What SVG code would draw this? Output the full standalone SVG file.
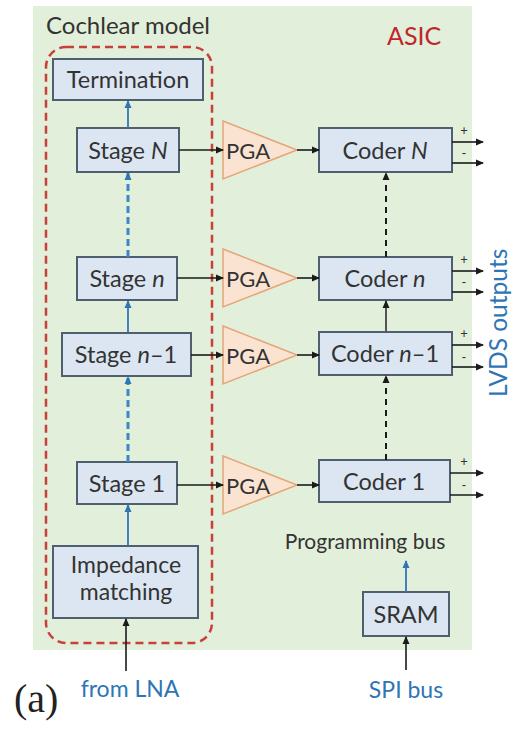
<svg xmlns="http://www.w3.org/2000/svg" width="513" height="729" viewBox="0 0 513 729">
  <defs>
    <marker id="arrK" viewBox="0 0 8 8" refX="7" refY="4" markerWidth="8" markerHeight="8" markerUnits="userSpaceOnUse" orient="auto">
      <path d="M0,0.5 L8,4 L0,7.5 Z" fill="#1a1a1a"/>
    </marker>
    <marker id="arrB" viewBox="0 0 8 8" refX="7" refY="4" markerWidth="8" markerHeight="8" markerUnits="userSpaceOnUse" orient="auto">
      <path d="M0,0.5 L8,4 L0,7.5 Z" fill="#2e75b6"/>
    </marker>
    <style>
      .lbl { font-family: Lato, "Liberation Sans", sans-serif; fill: #333; font-size: 23.5px; }
      .box { fill: #dbe6f2; stroke: #4f5f70; stroke-width: 2; }
      .pga { fill: #fbe3d2; stroke: #e6a577; stroke-width: 1.5; }
      .k { stroke: #1a1a1a; stroke-width: 1.6; fill: none; }
      .kd { stroke: #1a1a1a; stroke-width: 2; fill: none; stroke-dasharray: 6 5; }
      .b { stroke: #2e75b6; stroke-width: 1.8; fill: none; }
      .bd { stroke: #3a88c8; stroke-width: 3; fill: none; stroke-dasharray: 7 4; }
      .blue { fill: #2e75b6; font-family: Lato, "Liberation Sans", sans-serif; font-size: 23px; }
      .pm { font-family: Lato, "Liberation Sans", sans-serif; font-size: 13px; fill: #333; }
    </style>
  </defs>

  <!-- ASIC area -->
  <rect x="33" y="6" width="439" height="644" fill="#e2efda"/>
  <text class="lbl" x="46" y="34" style="font-size:24px">Cochlear model</text>
  <text x="387" y="45" font-family="Lato, 'Liberation Sans', sans-serif" font-size="25" fill="#c0262b">ASIC</text>

  <!-- cochlear model outline -->
  <rect x="46" y="47" width="166" height="596" rx="20" ry="20" fill="none" stroke="#c9403a" stroke-width="2.5" stroke-dasharray="8 5"/>

  <!-- cochlear stages -->
  <g id="termination">
    <rect class="box" x="53" y="59" width="150" height="41"/>
    <text class="lbl" x="128" y="88" text-anchor="middle">Termination</text>
  </g>
  <g id="stage-N">
    <rect class="box" x="77" y="128" width="102" height="44"/>
    <text class="lbl" x="128" y="158.5" text-anchor="middle">Stage <tspan font-style="italic">N</tspan></text>
  </g>
  <g id="stage-n">
    <rect class="box" x="77" y="257" width="100" height="43"/>
    <text class="lbl" x="127" y="287" text-anchor="middle">Stage <tspan font-style="italic">n</tspan></text>
  </g>
  <g id="stage-n-1">
    <rect class="box" x="62" y="333" width="129" height="43"/>
    <text class="lbl" x="126" y="363" text-anchor="middle">Stage <tspan font-style="italic">n</tspan>–1</text>
  </g>
  <g id="stage-1">
    <rect class="box" x="77" y="462" width="100" height="42"/>
    <text class="lbl" x="127" y="491.5" text-anchor="middle">Stage 1</text>
  </g>
  <g id="impedance-matching">
    <rect class="box" x="53" y="546" width="145" height="72"/>
    <text class="lbl" x="126" y="573" text-anchor="middle" style="font-size:23px">Impedance</text>
    <text class="lbl" x="126" y="599.5" text-anchor="middle" style="font-size:23px">matching</text>
  </g>

  <!-- programmable gain amplifiers -->
  <g id="pga-N">
    <polygon class="pga" points="223,121 297,150 223,179"/>
    <text class="lbl" x="226" y="158.5" style="font-size:22px">PGA</text>
  </g>
  <g id="pga-n">
    <polygon class="pga" points="223,249 297,278 223,307"/>
    <text class="lbl" x="226" y="286.5" style="font-size:22px">PGA</text>
  </g>
  <g id="pga-n-1">
    <polygon class="pga" points="223,326 297,355 223,384"/>
    <text class="lbl" x="226" y="363.5" style="font-size:22px">PGA</text>
  </g>
  <g id="pga-1">
    <polygon class="pga" points="223,456 297,485 223,514"/>
    <text class="lbl" x="226" y="493.5" style="font-size:22px">PGA</text>
  </g>

  <!-- coders -->
  <g id="coder-N">
    <rect class="box" x="319" y="128" width="133" height="44"/>
    <text class="lbl" x="385" y="158.5" text-anchor="middle">Coder <tspan font-style="italic">N</tspan></text>
  </g>
  <g id="coder-n">
    <rect class="box" x="319" y="257" width="133" height="43"/>
    <text class="lbl" x="385" y="287" text-anchor="middle">Coder <tspan font-style="italic">n</tspan></text>
  </g>
  <g id="coder-n-1">
    <rect class="box" x="319" y="332" width="133" height="43"/>
    <text class="lbl" x="385" y="362" text-anchor="middle">Coder <tspan font-style="italic">n</tspan>–1</text>
  </g>
  <g id="coder-1">
    <rect class="box" x="319" y="460" width="131" height="42"/>
    <text class="lbl" x="384" y="489.5" text-anchor="middle">Coder 1</text>
  </g>

  <g id="sram">
    <rect class="box" x="363" y="592" width="86" height="44"/>
    <text class="lbl" x="406" y="622.5" text-anchor="middle">SRAM</text>
  </g>

  <text class="lbl" x="365" y="549" text-anchor="middle" style="font-size:21px">Programming bus</text>

  <!-- connectors -->
  <g id="connectors">
    <!-- cochlear chain -->
    <line class="b" x1="128" y1="128" x2="128" y2="101" marker-end="url(#arrB)"/>
    <line class="bd" x1="128" y1="257" x2="128" y2="173" marker-end="url(#arrB)"/>
    <line class="b" x1="128" y1="333" x2="128" y2="301" marker-end="url(#arrB)"/>
    <line class="bd" x1="128" y1="462" x2="128" y2="377" marker-end="url(#arrB)"/>
    <line class="b" x1="128" y1="546" x2="128" y2="505" marker-end="url(#arrB)"/>
    <line class="k" x1="126" y1="671" x2="126" y2="619" marker-end="url(#arrK)"/>

    <!-- stages to PGAs -->
    <line class="k" x1="179" y1="150" x2="223" y2="150" marker-end="url(#arrK)"/>
    <line class="k" x1="177" y1="278" x2="223" y2="278" marker-end="url(#arrK)"/>
    <line class="k" x1="191" y1="355" x2="223" y2="355" marker-end="url(#arrK)"/>
    <line class="k" x1="177" y1="485" x2="223" y2="485" marker-end="url(#arrK)"/>

    <!-- PGAs to coders -->
    <line class="k" x1="297" y1="150" x2="319" y2="150" marker-end="url(#arrK)"/>
    <line class="k" x1="297" y1="278" x2="319" y2="278" marker-end="url(#arrK)"/>
    <line class="k" x1="297" y1="355" x2="319" y2="355" marker-end="url(#arrK)"/>
    <line class="k" x1="297" y1="485" x2="319" y2="485" marker-end="url(#arrK)"/>

    <!-- coder chain -->
    <line class="kd" x1="386" y1="257" x2="386" y2="173" marker-end="url(#arrK)"/>
    <line stroke="#555" stroke-width="2" x1="386" y1="332" x2="386" y2="301" marker-end="url(#arrK)"/>
    <line class="kd" x1="386" y1="460" x2="386" y2="376" marker-end="url(#arrK)"/>

    <!-- LVDS outputs -->
    <line class="k" x1="452" y1="142" x2="483" y2="142" marker-end="url(#arrK)"/>
    <line class="k" x1="452" y1="163" x2="483" y2="163" marker-end="url(#arrK)"/>
    <line class="k" x1="452" y1="271" x2="483" y2="271" marker-end="url(#arrK)"/>
    <line class="k" x1="452" y1="292" x2="483" y2="292" marker-end="url(#arrK)"/>
    <line class="k" x1="452" y1="345" x2="483" y2="345" marker-end="url(#arrK)"/>
    <line class="k" x1="452" y1="367" x2="483" y2="367" marker-end="url(#arrK)"/>
    <line class="k" x1="450" y1="473" x2="483" y2="473" marker-end="url(#arrK)"/>
    <line class="k" x1="450" y1="495" x2="483" y2="495" marker-end="url(#arrK)"/>

    <!-- programming bus -->
    <line class="b" x1="406" y1="592" x2="406" y2="561" marker-end="url(#arrB)"/>
    <line class="k" x1="406" y1="670" x2="406" y2="637" marker-end="url(#arrK)"/>
  </g>

  <!-- output polarity marks -->
  <text class="pm" x="464" y="135" text-anchor="middle">+</text>
  <text class="pm" x="464" y="158" text-anchor="middle">-</text>
  <text class="pm" x="464" y="264" text-anchor="middle">+</text>
  <text class="pm" x="464" y="287" text-anchor="middle">-</text>
  <text class="pm" x="464" y="338" text-anchor="middle">+</text>
  <text class="pm" x="464" y="362" text-anchor="middle">-</text>
  <text class="pm" x="464" y="466" text-anchor="middle">+</text>
  <text class="pm" x="464" y="490" text-anchor="middle">-</text>

  <text class="blue" x="507" y="397" transform="rotate(-90 507 397)" style="font-size:24.5px">LVDS outputs</text>

  <text class="blue" x="130" y="697" text-anchor="middle">from LNA</text>
  <text class="blue" x="406" y="698" text-anchor="middle">SPI bus</text>

  <text x="14" y="712" font-family="'Liberation Serif', serif" font-size="40" fill="#222">(a)</text>
</svg>
